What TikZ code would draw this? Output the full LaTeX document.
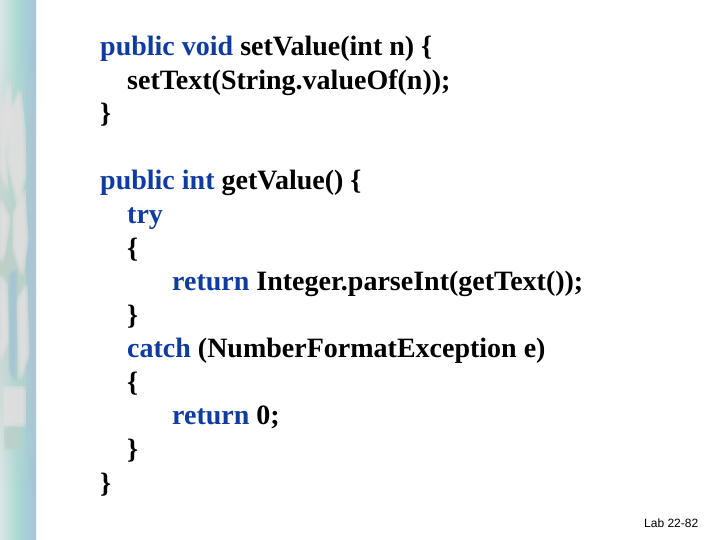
\documentclass[tikz,border=0pt]{standalone}
\usepackage{fontspec}
\usetikzlibrary{fadings}
\setmainfont{Liberation Serif}
\newfontfamily\labfont{Liberation Sans}
\definecolor{kw}{HTML}{0F3CA0}
\definecolor{sA}{HTML}{DCE6E6}
\definecolor{sB}{HTML}{A9D9D2}
\definecolor{sC}{HTML}{A3C3DC}
\definecolor{pale}{HTML}{E2E0E0}
\definecolor{sage}{HTML}{BCD0C8}
\definecolor{dusk}{HTML}{A4C4D6}
\tikzfading[name=bandfade,top color=transparent!100,bottom color=transparent!100,
  middle color=transparent!0]
\newcommand{\softshape}[2]{%
  \foreach \dx/\dy in {-1.5/-2,1.5/-2,-1.5/2,1.5/2,0/0}{%
    \fill[#1,opacity=.36,shift={(\dx,\dy)}] #2;}}
\begin{document}
\begin{tikzpicture}[x=1pt,y=-1pt,
  code/.style={anchor=base west,inner sep=0pt,font=\fontsize{28}{28}\selectfont\bfseries},
  lab/.style={anchor=base west,inner sep=0pt,font=\fontsize{12}{12}\selectfont\labfont}]
\useasboundingbox (0,0) rectangle (720,540);
\fill[white] (0,0) rectangle (720,540);
% decorative strip
\fill[left color=sA,right color=sC,middle color=sB] (0,0) rectangle (36,540);
\begin{scope}
\clip (0,0) rectangle (36,540);
\fill[sage,path fading=bandfade] (0,40) rectangle (36,490);
\fill[dusk,path fading=bandfade,opacity=.8] (26,40) rectangle (36,490);
\softshape{pale}{(1,115) -- (9,82) -- (12,115) -- (5,150) -- (7,190) -- (1,170) -- cycle}
\softshape{pale}{(9,118) -- (20,90) -- (24,130) -- (25,175) -- (18,205) -- (8,160) -- cycle}
\softshape{pale}{(0,200) -- (9,218) -- (4,255) -- (0,262) -- cycle}
\softshape{pale}{(14,214) -- (24,190) -- (27,240) -- (22,275) -- (14,250) -- cycle}
\softshape{pale}{(0,275) -- (6,285) -- (8,340) -- (0,360) -- cycle}
\softshape{dusk}{(10,275) -- (16,270) -- (15,380) -- (10,370) -- cycle}
\softshape{pale}{(18,300) -- (26,285) -- (28,355) -- (20,380) -- cycle}
\softshape{pale}{(4,388) -- (24,388) -- (24,425) -- (4,425) -- cycle}
\softshape{sage}{(5,428) -- (18,428) -- (18,448) -- (5,448) -- cycle}
\end{scope}
% code
\node[code] (l1) at (100,56) {\textcolor{kw}{public void} setValue(int n) \{};
\node[code] (l2) at (127,89.5) {setText(String.valueOf(n));};
\node[code] (l3) at (100,123) {\}};
\node[code] (l4) at (100,190) {\textcolor{kw}{public int} getValue() \{};
\node[code] (l5) at (127,223.5) {\textcolor{kw}{try}};
\node[code] (l6) at (127,257) {\{};
\node[code] (l7) at (172,290.5) {\textcolor{kw}{return} Integer.parseInt(getText());};
\node[code] (l8) at (127,324) {\}};
\node[code] (l9) at (127,357.5) {\textcolor{kw}{catch} (NumberFormatException e)};
\node[code] (l10) at (127,391) {\{};
\node[code] (l11) at (172,424.5) {\textcolor{kw}{return} 0;};
\node[code] (l12) at (127,458) {\}};
\node[code] (l13) at (100,492) {\}};
\node[lab] (pg) at (644,527) {Lab 22-82};
\end{tikzpicture}
\end{document}
